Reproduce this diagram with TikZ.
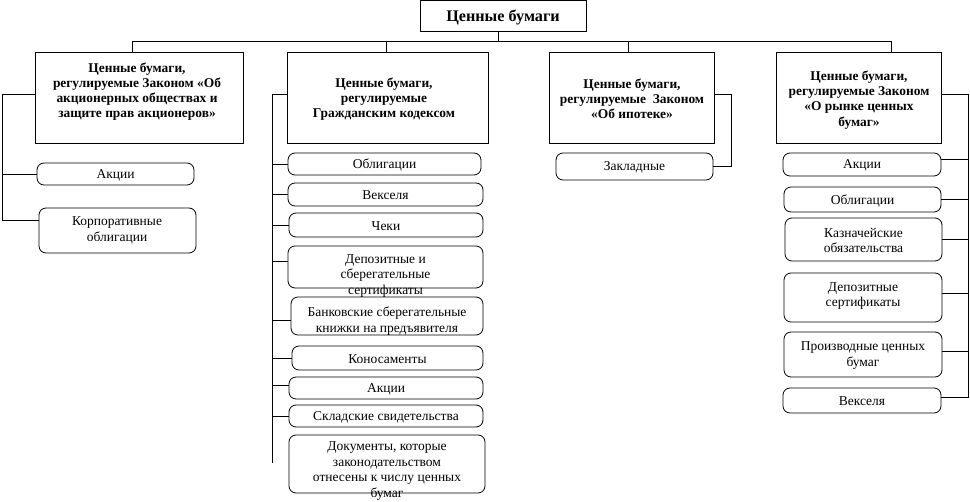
\documentclass[tikz,border=0pt]{standalone}
\usepackage{fontspec}
\setmainfont{Liberation Serif}
% box: style, name, x1, y1, x2, y2
\newcommand\mkbox[6]{\node[#1, minimum width={(#5)-(#3)}, minimum height={(#6)-(#4)}] (#2) at ({(#3+#5)/2},{(#4+#6)/2}) {};}
\begin{document}
\begin{tikzpicture}[x=1pt,y=-1pt,
  hdr/.style={draw, line width=1pt, inner sep=0pt},
  itm/.style={draw, rounded corners=7pt, line width=0.8pt, inner sep=0pt},
  txt/.style={align=center, inner sep=0pt, font=\fontsize{13.5}{15.8}\selectfont},
  htxt/.style={align=center, inner sep=0pt, font=\bfseries\fontsize{13.4}{15.2}\selectfont},
  ttl/.style={font=\bfseries\fontsize{16.2}{18}\selectfont, inner sep=0pt},
  wire/.style={line width=0.9pt}]
\useasboundingbox (0,0) rectangle (970,502);

% top
\mkbox{hdr}{t}{420}{1}{586}{32}
\node[ttl] (tt) at (503,17.5) {Ценные бумаги};

% headers
\mkbox{hdr}{b1}{35}{53}{243}{144}
\mkbox{hdr}{b2}{287}{53}{488}{144}
\mkbox{hdr}{b3}{549}{53}{714}{144}
\mkbox{hdr}{b4}{776}{53}{941}{144}
\node[htxt] (b1t) at (137,91.5) {Ценные бумаги,\\регулируемые Законом «Об\\акционерных обществах и\\защите прав акционеров»};
\node[htxt] (b2t) at (384,99) {Ценные бумаги,\\регулируемые\\Гражданским кодексом};
\node[htxt] (b3t) at (632,99) {Ценные бумаги,\\регулируемые\ \ Законом\\«Об ипотеке»};
\node[htxt] (b4t) at (859,100) {Ценные бумаги,\\регулируемые Законом\\«О рынке ценных\\бумаг»};

% tree
\coordinate (d1) at (132,41);
\coordinate (d4) at (891,41);
\draw[wire] (b1.north -| d1) -- (d1) -- (d4) -- (b4.north -| d4);
\draw[wire] ([xshift=-5pt]t.south) -- ([xshift=-5pt]t.south |- d1);
\draw[wire] ([xshift=-1.5pt]b2.north) -- ([xshift=-1.5pt]b2.north |- d1);
\draw[wire] ([xshift=-3pt]b3.north) -- ([xshift=-3pt]b3.north |- d1);

% column 1 items
\mkbox{itm}{a1}{37}{163}{194}{185}
\mkbox{itm}{a2}{39}{208}{196}{253}
\node[txt] (a1t) at ([yshift=-1pt]a1) {Акции};
\node[txt] (a2t) at (117,230) {Корпоративные\\облигации};
\coordinate (L1) at (2,94);
\draw[wire] (b1.west |- L1) -- (L1) |- ([yshift=10pt]a2.west);
\draw[wire] (L1 |- a1.west) -- (a1.west);

% column 2 items
\mkbox{itm}{c1}{288}{153}{481}{175}
\mkbox{itm}{c2}{288}{183}{483}{206}
\mkbox{itm}{c3}{289}{213}{483}{237}
\mkbox{itm}{c4}{288}{246}{483}{288}
\mkbox{itm}{c5}{291}{297}{483}{335}
\mkbox{itm}{c6}{292}{346}{483}{370}
\mkbox{itm}{c7}{289}{377}{483}{399}
\mkbox{itm}{c8}{289}{405}{483}{427}
\mkbox{itm}{c9}{289}{435}{485}{493}
\node[txt] (c1t) at ([yshift=-1pt]c1) {Облигации};
\node[txt] (c2t) at ([yshift=-1pt]c2) {Векселя};
\node[txt] (c3t) at ([yshift=-1pt]c3) {Чеки};
\node[txt] (c4t) at (385.5,276) {Депозитные и\\сберегательные\\сертификаты};
\node[txt] (c5t) at (387,321) {Банковские сберегательные\\книжки на предъявителя};
\node[txt] (c6t) at ([yshift=-1pt]c6) {Коносаменты};
\node[txt] (c7t) at ([yshift=-1pt]c7) {Акции};
\node[txt] (c8t) at ([yshift=-1pt]c8) {Складские свидетельства};
\node[txt] (c9t) at (387,471) {Документы, которые\\законодательством\\отнесены к числу ценных\\бумаг};
\coordinate (L2) at (272,94);
\coordinate (L2e) at (272,463);
\draw[wire] (b2.west |- L2) -- (L2) -- (L2e);
\draw[wire] (L2 |- c1.west) -- (c1.west);
\draw[wire] (L2 |- c2.west) -- (c2.west);
\draw[wire] (L2 |- c3.west) -- (c3.west);
\draw[wire] (L2 |- 0,261) -- (c4.west |- 0,261);
\draw[wire] (L2 |- 0,320) -- (c5.west |- 0,320);
\draw[wire] (L2 |- c6.west) -- (c6.west);
\draw[wire] (L2 |- 0,385) -- (c7.west |- 0,385);
\draw[wire] (L2 |- c8.west) -- (c8.west);

% column 3
\mkbox{itm}{z1}{556}{153}{713}{180}
\node[txt] (z1t) at ([yshift=-1pt]z1) {Закладные};
\coordinate (L3) at (731,94);
\draw[wire] (b3.east |- L3) -- (L3) |- (z1.east);

% column 4
\mkbox{itm}{e1}{783}{153}{941}{176}
\mkbox{itm}{e2}{784}{187}{941}{212}
\mkbox{itm}{e3}{785}{218}{942}{261}
\mkbox{itm}{e4}{784}{273}{942}{322}
\mkbox{itm}{e5}{784}{332}{942}{377}
\mkbox{itm}{e6}{783}{388}{941}{413}
\node[txt] (e1t) at ([yshift=-1pt]e1) {Акции};
\node[txt] (e2t) at ([yshift=-1pt]e2) {Облигации};
\node[txt] (e3t) at ([yshift=-1pt]e3) {Казначейские\\обязательства};
\node[txt] (e4t) at (863,296) {Депозитные\\сертификаты};
\node[txt] (e5t) at ([yshift=-1pt]e5) {Производные ценных\\бумаг};
\node[txt] (e6t) at ([yshift=-1pt]e6) {Векселя};
\coordinate (L4) at (968,94);
\draw[wire] (b4.east |- L4) -- (L4) -- (968,397) -- (e6.east |- 0,397);
\draw[wire] (L4 |- 0,159) -- (e1.east |- 0,159);
\draw[wire] (L4 |- e2.east) -- (e2.east);
\draw[wire] (L4 |- e3.east) -- (e3.east);
\draw[wire] (L4 |- 0,293) -- (e4.east |- 0,293);
\draw[wire] (L4 |- 0,351) -- (e5.east |- 0,351);
\end{tikzpicture}
\end{document}
